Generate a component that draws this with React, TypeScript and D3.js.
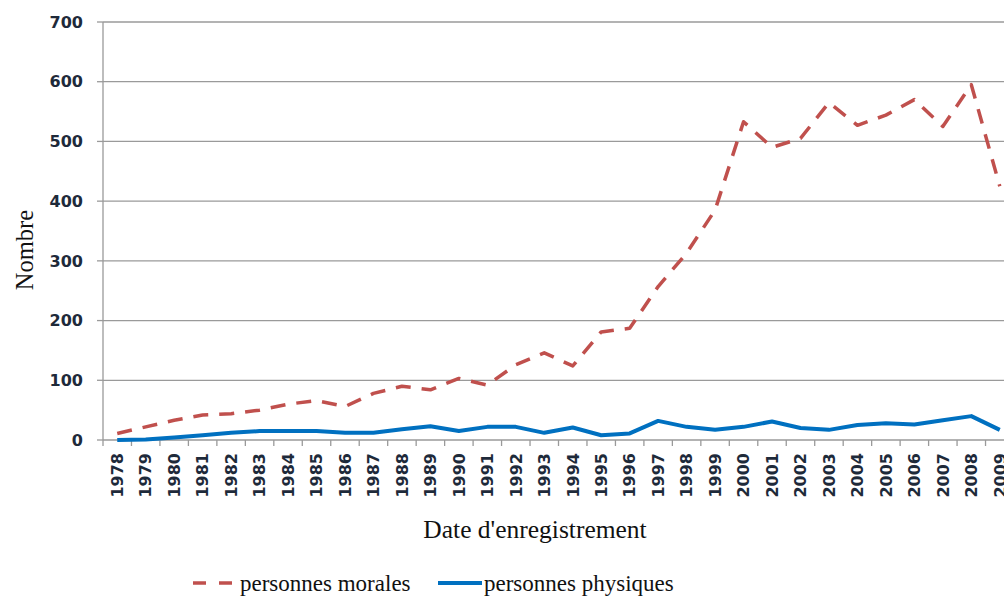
import React from "react";
import * as d3 from "d3";

const years: string[] = [
  "1978","1979","1980","1981","1982","1983","1984","1985","1986","1987",
  "1988","1989","1990","1991","1992","1993","1994","1995","1996","1997",
  "1998","1999","2000","2001","2002","2003","2004","2005","2006","2007",
  "2008","2009",
];
const morales: number[] = [
  11, 22, 33, 42, 44, 50, 60, 66, 56, 78,
  90, 84, 103, 92, 126, 146, 124, 181, 187, 257,
  313, 385, 533, 490, 505, 565, 527, 544, 570, 525,
  595, 425,
];
const physiques: number[] = [
  0, 1, 4, 8, 12, 15, 15, 15, 12, 12,
  18, 23, 15, 22, 22, 12, 21, 8, 11, 32,
  22, 17, 22, 31, 20, 17, 25, 28, 26, 33,
  40, 17,
];
const yTicks: number[] = [0, 100, 200, 300, 400, 500, 600, 700];
const seriesNames: string[] = ["personnes morales", "personnes physiques"];
const yTitle = "Nombre";
const xTitle = "Date d'enregistrement";

const W = 1004;
const H = 598;
const left = 103;
const right = 1014;
const top = 22;
const bottom = 440;

const RED = "#C0504D";
const BLUE = "#0070C0";
const GRID = "#9a9a9a";
const TICKFONT = "'DejaVu Sans', Verdana, sans-serif";
const SERIF = "'Liberation Serif', 'Times New Roman', serif";

export default function App() {
  const x = d3.scaleBand<string>().domain(years).range([left, right]).padding(0);
  const y = d3.scaleLinear().domain([0, 700]).range([bottom, top]);
  const cx = (i: number) => (x(years[i]) as number) + x.bandwidth() / 2;

  const line = d3
    .line<number>()
    .x((_, i) => cx(i))
    .y((d) => y(d))
    .curve(d3.curveLinear);

  const tickXs = years.map((yr) => x(yr) as number).concat([right]);
  const tickStyle = { fontFamily: TICKFONT, fontSize: "16px", fontWeight: 700 as const };

  return (
    <div style={{ position: "absolute", left: 0, top: 0 }}>
      <svg width={W} height={H} style={{ display: "block", background: "#fff" }}>
        {yTicks.map((t) => (
          <line key={"g" + t} x1={left} x2={right} y1={y(t)} y2={y(t)} stroke={GRID} strokeWidth={1.3} />
        ))}
        <line x1={left} x2={left} y1={top} y2={bottom} stroke={GRID} strokeWidth={1.3} />
        {yTicks.map((t) => (
          <line key={"yt" + t} x1={left - 6} x2={left} y1={y(t)} y2={y(t)} stroke={GRID} strokeWidth={1.3} />
        ))}
        {yTicks.map((t) => (
          <text key={"yl" + t} x={83} y={y(t)} dy="0.36em" textAnchor="end" style={tickStyle} fill="#1e2a3a">
            {t}
          </text>
        ))}
        {tickXs.map((tx, i) => (
          <line key={"xt" + i} x1={tx} x2={tx} y1={bottom} y2={bottom + 6} stroke={GRID} strokeWidth={1.3} />
        ))}
        {years.map((yr, i) => (
          <text
            key={"xl" + yr}
            transform={`translate(${cx(i)},453) rotate(-90)`}
            dy="0.36em"
            textAnchor="end"
            style={tickStyle}
            fill="#1e2a3a"
          >
            {yr}
          </text>
        ))}
        <path d={line(physiques) || ""} fill="none" stroke={BLUE} strokeWidth={4} strokeLinejoin="round" />
        <path
          d={line(morales) || ""}
          fill="none"
          stroke={RED}
          strokeWidth={3.5}
          strokeDasharray="15,11"
          strokeLinejoin="round"
        />
        <text
          transform={`translate(33,250) rotate(-90)`}
          textAnchor="middle"
          style={{ fontFamily: SERIF, fontSize: "24.5px" }}
          fill="#111"
        >
          {yTitle}
        </text>
        <text x={535} y={538} textAnchor="middle" style={{ fontFamily: SERIF, fontSize: "25.5px" }} fill="#111">
          {xTitle}
        </text>
        <line x1={193} x2={232} y1={583} y2={583} stroke={RED} strokeWidth={3.5} strokeDasharray="13,13" />
        <text x={240} y={591} style={{ fontFamily: SERIF, fontSize: "23px" }} fill="#111">
          {seriesNames[0]}
        </text>
        <line x1={438} x2={482} y1={583} y2={583} stroke={BLUE} strokeWidth={4} />
        <text x={484} y={591} style={{ fontFamily: SERIF, fontSize: "23px" }} fill="#111">
          {seriesNames[1]}
        </text>
      </svg>
    </div>
  );
}
